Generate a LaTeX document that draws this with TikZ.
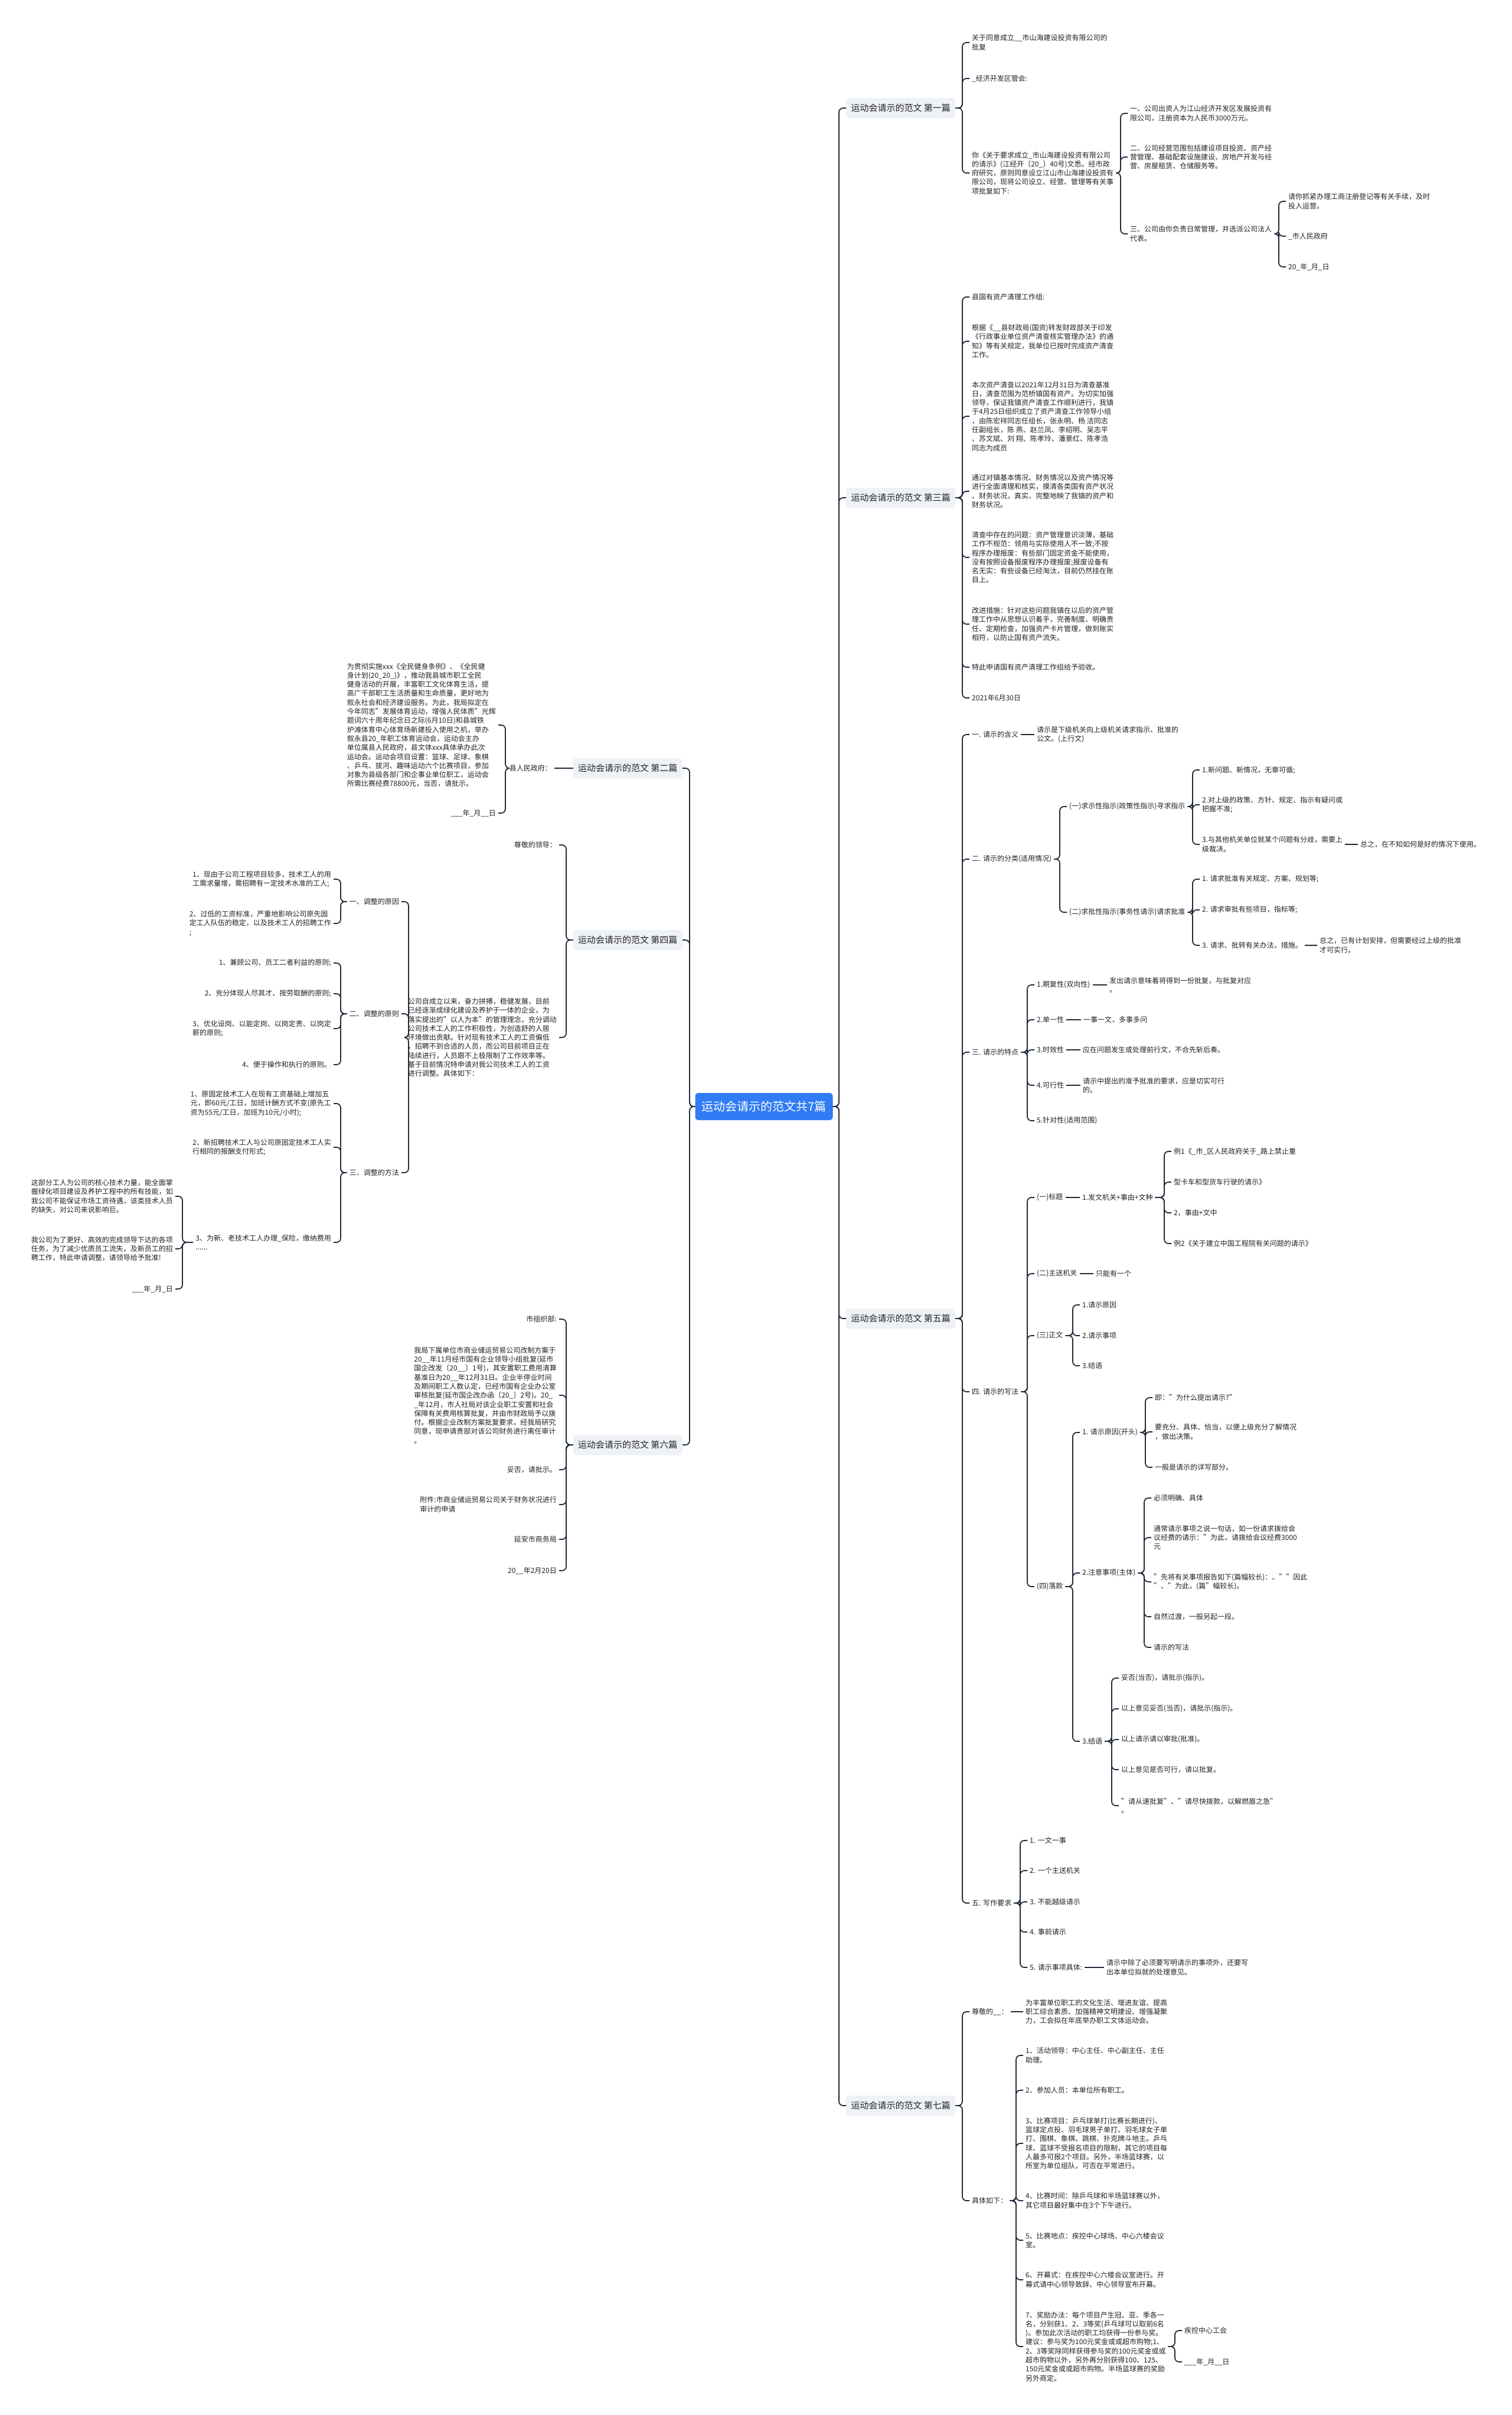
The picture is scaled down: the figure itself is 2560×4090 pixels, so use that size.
\documentclass[tikz,border=0pt]{standalone}
\usepackage{fontspec}
\setmainfont{Noto Sans CJK SC}
\usepackage{tikz}
\usepackage{xcolor}
\definecolor{linkc}{HTML}{1F2A3A}
\definecolor{boxc}{HTML}{EEF1F5}
\definecolor{rootc}{HTML}{2F7CF4}
\definecolor{textc}{HTML}{222222}

\begin{document}
\begin{tikzpicture}[x=1pt, y=-1pt,
    leaf/.style={inner xsep=4pt, inner ysep=1pt, align=left, text=textc, font=\fontsize{12}{15.3}\selectfont},
    rleaf/.style={leaf, anchor=west},
    lleaf/.style={leaf, anchor=east},
    main/.style={fill=boxc, rounded corners=5pt, minimum width=185pt, minimum height=34pt, inner xsep=8pt, text=textc, font=\fontsize{15}{18}\selectfont},
    root/.style={fill=rootc, rounded corners=5pt, minimum width=233pt, minimum height=46pt, text=white, font=\fontsize{20}{24}\selectfont},
    link/.style={draw=linkc, line width=1.8pt, rounded corners=7pt},
    flat/.style={draw=linkc, line width=1.8pt}]
  \useasboundingbox (0,0) rectangle (2560,4090);
  \fill[white] (0,0) rectangle (2560,4090);

  \node[root] (root) at (1294,1874) {运动会请示的范文共7篇};
  \node[main, anchor=west] (b1) at (1433,183) {运动会请示的范文 第一篇};
  \node[main, anchor=west] (b3) at (1433,843) {运动会请示的范文 第三篇};
  \node[main, anchor=west] (b5) at (1433,2233) {运动会请示的范文 第五篇};
  \node[main, anchor=west] (b7) at (1433,3566) {运动会请示的范文 第七篇};
  \node[main, anchor=east] (b2) at (1156,1301) {运动会请示的范文 第二篇};
  \node[main, anchor=east] (b4) at (1156,1592) {运动会请示的范文 第四篇};
  \node[main, anchor=east] (b6) at (1156,2447) {运动会请示的范文 第六篇};

  \node[rleaf] (p1a) at (1642,72) {关于同意成立\_\_市山海建设投资有限公司的\\批复};
  \node[rleaf] (p1b) at (1642,133) {\_经济开发区管会:};
  \node[rleaf] (p1c) at (1642,293) {你《关于要求成立\_市山海建设投资有限公司\\的请示》(江经开〔20\_〕40号)文悉。经市政\\府研究，原则同意设立江山市山海建设投资有\\限公司，现将公司设立、经营、管理等有关事\\项批复如下:};
  \node[rleaf] (p1c1) at (1910,192) {一、公司出资人为江山经济开发区发展投资有\\限公司，注册资本为人民币3000万元。};
  \node[rleaf] (p1c2) at (1910,266) {二、公司经营范围包括建设项目投资、资产经\\营管理、基础配套设施建设、房地产开发与经\\营、房屋租赁、仓储服务等。};
  \node[rleaf] (p1c3) at (1910,396) {三、公司由你负责日常管理，并选派公司法人\\代表。};
  \node[rleaf] (p1d1) at (2178,341) {请你抓紧办理工商注册登记等有关手续，及时\\投入运营。};
  \node[rleaf] (p1d2) at (2178,400) {\_市人民政府};
  \node[rleaf] (p1d3) at (2178,452) {20\_年\_月\_日};

  \node[rleaf] (p3a) at (1642,503) {县国有资产清理工作组:};
  \node[rleaf] (p3b) at (1642,578) {根据《\_\_县财政局(国资)转发财政部关于印发\\《行政事业单位资产清查核实管理办法》的通\\知》等有关规定，我单位已按时完成资产清查\\工作。};
  \node[rleaf] (p3c) at (1642,705) {本次资产清查以2021年12月31日为清查基准\\日，清查范围为范桥镇国有资产。为切实加强\\领导，保证我镇资产清查工作顺利进行，我镇\\于4月25日组织成立了资产清查工作领导小组\\，由陈宏祥同志任组长，张永明、杨 洁同志\\任副组长，陈 燕、赵兰凤、李绍明、吴志平\\、苏文斌、刘 翔、陈孝玲、潘景红、陈孝浩\\同志为成员};
  \node[rleaf] (p3d) at (1642,832) {通过对镇基本情况、财务情况以及资产情况等\\进行全面清理和核实，摸清各类国有资产状况\\、财务状况，真实、完整地映了我镇的资产和\\财务状况。};
  \node[rleaf] (p3e) at (1642,944) {清查中存在的问题：资产管理意识淡薄，基础\\工作不规范：领用与实际使用人不一致;不按\\程序办理报废：有些部门固定资金不能使用，\\没有按照设备报废程序办理报废;报废设备有\\名无实：有些设备已经淘汰，目前仍然挂在账\\目上。};
  \node[rleaf] (p3f) at (1642,1057) {改进措施：针对这些问题我镇在以后的资产管\\理工作中从思想认识着手，完善制度、明确责\\任、定期检查，加强资产卡片管理，做到账实\\相符，以防止国有资产流失。};
  \node[rleaf] (p3g) at (1642,1130) {特此申请国有资产清理工作组给予验收。};
  \node[rleaf] (p3h) at (1642,1182) {2021年6月30日};

  \node[rleaf] (q1) at (1642,1244) {一. 请示的含义};
  \node[rleaf] (q1a) at (1752,1244) {请示是下级机关向上级机关请求指示、批准的\\公文。(上行文)};
  \node[rleaf] (q2) at (1642,1455) {二. 请示的分类(适用情况)};
  \node[rleaf] (q21) at (1807,1366) {(一)求示性指示(政策性指示)寻求指示};
  \node[rleaf] (q211) at (2032,1304) {1.新问题、新情况，无章可循;};
  \node[rleaf] (q212) at (2032,1363) {2.对上级的政策、方针、规定、指示有疑问或\\把握不准;};
  \node[rleaf] (q213) at (2032,1430) {3.与其他机关单位就某个问题有分歧，需要上\\级裁决。};
  \node[rleaf] (q2131) at (2300,1430) {总之，在不知如何是好的情况下使用。};
  \node[rleaf] (q22) at (1807,1545) {(二)求批性指示(事务性请示)请求批准};
  \node[rleaf] (q221) at (2032,1489) {1. 请求批准有关规定、方案、规划等;};
  \node[rleaf] (q222) at (2032,1541) {2. 请求审批有些项目，指标等;};
  \node[rleaf] (q223) at (2032,1601) {3. 请求、批转有关办法，措施。};
  \node[rleaf] (q2231) at (2231,1601) {总之，已有计划安排，但需要经过上级的批准\\才可实行。};
  \node[rleaf] (q3) at (1642,1782) {三. 请示的特点};
  \node[rleaf] (q31) at (1752,1668) {1.期复性(双向性)};
  \node[rleaf] (q311) at (1875,1668) {发出请示意味着将得到一份批复，与批复对应\\。};
  \node[rleaf] (q32) at (1752,1727) {2.单一性};
  \node[rleaf] (q321) at (1831,1727) {一事一文，多事多问};
  \node[rleaf] (q33) at (1752,1778) {3.时效性};
  \node[rleaf] (q331) at (1830,1778) {应在问题发生或处理前行文，不合先斩后奏。};
  \node[rleaf] (q34) at (1752,1838) {4.可行性};
  \node[rleaf] (q341) at (1830,1838) {请示中提出的准予批准的要求，应是切实可行\\的。};
  \node[rleaf] (q35) at (1752,1898) {5.针对性(适用范围)};
  \node[rleaf] (q4) at (1642,2357) {四. 请示的写法};
  \node[rleaf] (q41) at (1752,2028) {(一)标题};
  \node[rleaf] (q411) at (1829,2028) {1.发文机关+事由+文种};
  \node[rleaf] (q4111) at (1984,1950) {例1《\_市\_区人民政府关于\_路上禁止重};
  \node[rleaf] (q4112) at (1984,2002) {型卡车和型货车行驶的请示》};
  \node[rleaf] (q4113) at (1984,2054) {2，事由+文中};
  \node[rleaf] (q4114) at (1984,2106) {例2《关于建立中国工程院有关问题的请示》};
  \node[rleaf] (q42) at (1752,2157) {(二)主送机关};
  \node[rleaf] (q421) at (1852,2157) {只能有一个};
  \node[rleaf] (q43) at (1752,2262) {(三)正文};
  \node[rleaf] (q431) at (1829,2210) {1.请示原因};
  \node[rleaf] (q432) at (1829,2262) {2.请示事项};
  \node[rleaf] (q433) at (1829,2313) {3.结语};
  \node[rleaf] (q44) at (1752,2687) {(四)落款};
  \node[rleaf] (q441) at (1829,2426) {1. 请示原因(开头)};
  \node[rleaf] (q4411) at (1952,2367) {即："为什么提出请示?"};
  \node[rleaf] (q4412) at (1952,2425) {要充分、具体、恰当，以便上级充分了解情况\\，做出决策。};
  \node[rleaf] (q4413) at (1952,2485) {一般是请示的详写部分。};
  \node[rleaf] (q442) at (1829,2664) {2.注意事项(主体)};
  \node[rleaf] (q4421) at (1950,2537) {必须明确、具体};
  \node[rleaf] (q4422) at (1950,2604) {通常请示事项之说一句话，如一份请求拨给会\\议经费的请示："为此，请拨给会议经费3000\\元};
  \node[rleaf] (q4423) at (1950,2679) {"先将有关事项报告如下(篇幅较长)：、""因此\\"、"为此，(篇"幅较长)。};
  \node[rleaf] (q4424) at (1950,2738) {自然过渡，一般另起一段。};
  \node[rleaf] (q4425) at (1950,2790) {请示的写法};
  \node[rleaf] (q443) at (1829,2949) {3.结语};
  \node[rleaf] (q4431) at (1895,2842) {妥否(当否)，请批示(指示)。};
  \node[rleaf] (q4432) at (1895,2894) {以上意见妥否(当否)，请批示(指示)。};
  \node[rleaf] (q4433) at (1895,2946) {以上请示请以审批(批准)。};
  \node[rleaf] (q4434) at (1895,2997) {以上意见是否可行，请以批复。};
  \node[rleaf] (q4435) at (1895,3058) {"请从速批复"、"请尽快拨款，以解燃眉之急"\\。};
  \node[rleaf] (q5) at (1642,3223) {五. 写作要求};
  \node[rleaf] (q51) at (1740,3117) {1. 一文一事};
  \node[rleaf] (q52) at (1740,3168) {2. 一个主送机关};
  \node[rleaf] (q53) at (1740,3221) {3. 不能越级请示};
  \node[rleaf] (q54) at (1740,3272) {4. 事前请示};
  \node[rleaf] (q55) at (1740,3332) {5. 请示事项具体:};
  \node[rleaf] (q551) at (1870,3332) {请示中除了必须要写明请示的事项外，还要写\\出本单位拟就的处理意见。};

  \node[rleaf] (r1) at (1642,3407) {尊敬的\_\_：};
  \node[rleaf] (r1a) at (1733,3407) {为丰富单位职工的文化生活、增进友谊、提高\\职工综合素质、加强精神文明建设、增强凝聚\\力，工会拟在年底举办职工文体运动会。};
  \node[rleaf] (r2) at (1642,3727) {具体如下：};
  \node[rleaf] (r21) at (1733,3481) {1、活动领导：中心主任、中心副主任、主任\\助理。};
  \node[rleaf] (r22) at (1733,3540) {2、参加人员：本单位所有职工。};
  \node[rleaf] (r23) at (1733,3630) {3、比赛项目：乒乓球单打(比赛长期进行)、\\篮球定点投、羽毛球男子单打、羽毛球女子单\\打、围棋、象棋、跳棋、扑克牌斗地主。乒乓\\球、蓝球不受报名项目的限制，其它的项目每\\人最多可报2个项目。另外，半场蓝球赛，以\\所室为单位组队，可否在平常进行。};
  \node[rleaf] (r24) at (1733,3727) {4、比赛时间：除乒乓球和半场蓝球赛以外，\\其它项目最好集中在3个下午进行。};
  \node[rleaf] (r25) at (1733,3794) {5、比赛地点：疾控中心球场、中心六楼会议\\室。};
  \node[rleaf] (r26) at (1733,3861) {6、开幕式：在疾控中心六楼会议室进行。开\\幕式请中心领导致辞、中心领导宣布开幕。};
  \node[rleaf] (r27) at (1733,3974) {7、奖励办法：每个项目产生冠、亚、季各一\\名，分别获1、2、3等奖(乒乓球可以取前6名\\)。参加此次活动的职工均获得一份参与奖。\\建议：参与奖为100元奖金或或超市购物;1、\\2、3等奖除同样获得参与奖的100元奖金或或\\超市购物以外，另外再分别获得100、125、\\150元奖金或或超市购物。半场蓝球赛的奖励\\另外商定。};
  \node[rleaf] (r271) at (2002,3947) {疾控中心工会};
  \node[rleaf] (r272) at (2002,4000) {\_\_\_年\_月\_\_日};

  \node[lleaf] (l2a) at (939,1301) {县人民政府：};
  \node[lleaf] (l2a1) at (844,1228) {为贯彻实施xxx《全民健身条例》、《全民健\\身计划(20\_20\_)》，推动我县城市职工全民\\健身活动的开展，丰富职工文化体育生活，提\\高广干部职工生活质量和生命质量，更好地为\\叙永社会和经济建设服务。为此，我局拟定在\\今年同志"发展体育运动，增强人民体质"光辉\\题词六十周年纪念日之际(6月10日)和县城铁\\炉滩体育中心体育场新建投入使用之机，举办\\叙永县20\_年职工体育运动会，运动会主办\\单位属县人民政府，县文体xxx具体承办此次\\运动会。运动会项目设置：篮球、足球、象棋\\、乒乓、拔河、趣味运动六个比赛项目，参加\\对象为县级各部门和企事业单位职工，运动会\\所需比赛经费78800元，当否，请批示。};
  \node[lleaf] (l2a2) at (844,1377) {\_\_\_年\_月\_\_日};

  \node[lleaf] (l4a) at (947,1431) {尊敬的领导：};
  \node[lleaf] (l4b) at (947,1757) {公司自成立以来，奋力拼搏，稳健发展，目前\\已经逐渐成绿化建设及养护于一体的企业，为\\落实提出的"以人为本"的管理理念，充分调动\\公司技术工人的工作积极性，为创造舒的人居\\环境做出贡献。针对现有技术工人的工资偏低\\，招聘不到合适的人员，而公司目前项目正在\\陆续进行，人员跟不上极限制了工作效率等。\\基于目前情况特申请对我公司技术工人的工资\\进行调整。具体如下：};
  \node[lleaf] (l4b1) at (680,1527) {一、调整的原因};
  \node[lleaf] (l4b11) at (565,1489) {1、现由于公司工程项目较多，技术工人的用\\工需求量增，需招聘有一定技术水准的工人;};
  \node[lleaf] (l4b12) at (565,1564) {2、过低的工资标准，严重地影响公司原先固\\定工人队伍的稳定，以及技术工人的招聘工作\\;};
  \node[lleaf] (l4b2) at (680,1717) {二、调整的原则};
  \node[lleaf] (l4b21) at (565,1631) {1、兼顾公司、员工二者利益的原则;};
  \node[lleaf] (l4b22) at (565,1683) {2、充分体现人尽其才、按劳取酬的原则;};
  \node[lleaf] (l4b23) at (565,1742) {3、优化设岗、以能定岗、以岗定责、以岗定\\薪的原则;};
  \node[lleaf] (l4b24) at (565,1803) {4、便于操作和执行的原则。};
  \node[lleaf] (l4b3) at (680,1986) {三、调整的方法};
  \node[lleaf] (l4b31) at (565,1869) {1、原固定技术工人在现有工资基础上增加五\\元，即60元/工日，加班计酬方式不变(原先工\\资为55元/工日，加班为10元/小时);};
  \node[lleaf] (l4b32) at (565,1943) {2、新招聘技术工人与公司原固定技术工人实\\行相同的报酬支付形式;};
  \node[lleaf] (l4b33) at (565,2104) {3、为新、老技术工人办理\_保险，缴纳费用\\......};
  \node[lleaf] (l4b331) at (297,2026) {这部分工人为公司的核心技术力量，能全面掌\\握绿化项目建设及养护工程中的所有技能，如\\我公司不能保证市场工资待遇，该类技术人员\\的缺失，对公司来说影响巨。};
  \node[lleaf] (l4b332) at (297,2115) {我公司为了更好、高效的完成领导下达的各项\\任务，为了减少优质员工流失，及新员工的招\\聘工作，特此申请调整，请领导给予批准!};
  \node[lleaf] (l4b333) at (297,2183) {\_\_\_年\_月\_日};

  \node[lleaf] (l6a) at (947,2234) {市组织部:};
  \node[lleaf] (l6b) at (947,2363) {我局下属单位市商业储运贸易公司改制方案于\\20\_\_年11月经市国有企业领导小组批复(延市\\国企改发〔20\_\_〕1号)，其安置职工费用清算\\基准日为20\_\_年12月31日。企业半停业时间\\及期间职工人数认定，已经市国有企业办公室\\审核批复(延市国企改办函〔20\_〕2号)。20\_\\\_年12月，市人社局对该企业职工安置和社会\\保障有关费用核算批复，并由市财政局予以拨\\付。根据企业改制方案批复要求，经我局研究\\同意，现申请贵部对该公司财务进行离任审计\\。};
  \node[lleaf] (l6c) at (947,2489) {妥否，请批示。};
  \node[lleaf] (l6d) at (947,2548) {附件:市商业储运贸易公司关于财务状况进行\\审计的申请};
  \node[lleaf] (l6e) at (947,2607) {延安市商务局};
  \node[lleaf] (l6f) at (947,2660) {20\_\_年2月20日};

  \foreach \p/\c in {root/b1, root/b3, root/b5, root/b7,
      b1/p1a, b1/p1b, b1/p1c, p1c/p1c1, p1c/p1c2, p1c/p1c3, p1c3/p1d1, p1c3/p1d2, p1c3/p1d3,
      b3/p3a, b3/p3b, b3/p3c, b3/p3d, b3/p3e, b3/p3f, b3/p3g, b3/p3h,
      b5/q1, b5/q2, b5/q3, b5/q4, b5/q5,
      q2/q21, q2/q22, q21/q211, q21/q212, q21/q213,
      q22/q221, q22/q222, q22/q223,
      q3/q31, q3/q32, q3/q33, q3/q34, q3/q35,
      q4/q41, q4/q42, q4/q43, q4/q44, q411/q4111, q411/q4112, q411/q4113, q411/q4114,
      q43/q431, q43/q432, q43/q433, q44/q441, q44/q442, q44/q443,
      q441/q4411, q441/q4412, q441/q4413,
      q442/q4421, q442/q4422, q442/q4423, q442/q4424, q442/q4425,
      q443/q4431, q443/q4432, q443/q4433, q443/q4434, q443/q4435,
      q5/q51, q5/q52, q5/q53, q5/q54, q5/q55,
      b7/r1, b7/r2, r2/r21, r2/r22, r2/r23, r2/r24, r2/r25, r2/r26, r2/r27,
      r27/r271, r27/r272}
    \draw[link] (\p.east) -| ([xshift=-12pt]\c.west) -- (\c.west);

  \foreach \p/\c in {q1/q1a, q213/q2131, q223/q2231, q31/q311, q32/q321, q33/q331, q34/q341,
      q41/q411, q42/q421, q55/q551, r1/r1a}
    \draw[flat] (\p.east) -- (\c.west);

  \foreach \p/\c in {root/b2, root/b4, root/b6,
      l2a/l2a1, l2a/l2a2,
      b4/l4a, b4/l4b, l4b/l4b1, l4b/l4b2, l4b/l4b3,
      l4b1/l4b11, l4b1/l4b12, l4b2/l4b21, l4b2/l4b22, l4b2/l4b23, l4b2/l4b24,
      l4b3/l4b31, l4b3/l4b32, l4b3/l4b33, l4b33/l4b331, l4b33/l4b332, l4b33/l4b333,
      b6/l6a, b6/l6b, b6/l6c, b6/l6d, b6/l6e, b6/l6f}
    \draw[link] (\p.west) -| ([xshift=12pt]\c.east) -- (\c.east);

  \draw[flat] (b2.west) -- (l2a.east);
\end{tikzpicture}
\end{document}
